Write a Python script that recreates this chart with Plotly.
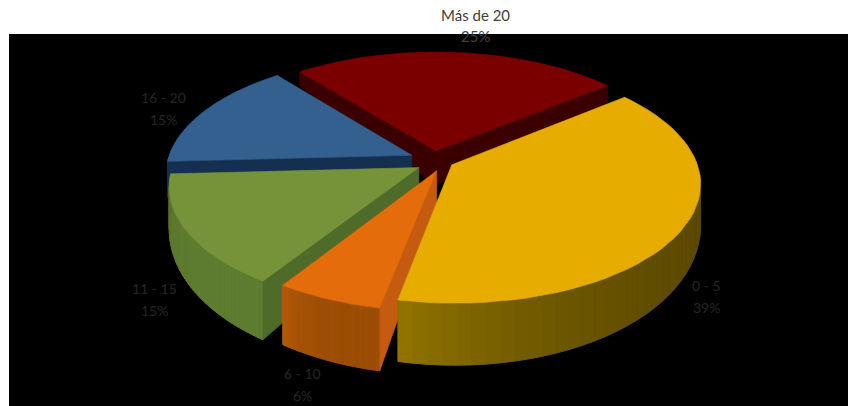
import math
import plotly.graph_objects as go

# ---- data ----
categories = ["0 - 5", "6 - 10", "11 - 15", "16 - 20", "Más de 20"]
values = [39, 6, 15, 15, 25]
percent_labels = ["39%", "6%", "15%", "15%", "25%"]

# ---- styling per slice ----
top_colors = ["#e6ac00", "#e46c0a", "#76933a", "#33608f", "#7a0000"]
face_colors = [None, "#c55a11", "#4f6b2a", "#152f50", "#3a0000"]
wall_start = ["#5a4800", "#9c4e05", "#5f7d30", "#1a3558", "#3a0000"]
wall_end = ["#917400", "#b45a08", "#55702b", "#1a3558", "#3a0000"]
explode = [0.08, 0.05, 0.08, 0.10, 0.08]
nudge_x = [0.004, 0.03, 0.008, 0.0, 0.0]
nudge_y = [0.0, 0.045, 0.025, 0.0, 0.0]
label_pos = [(706, 285, 307), (302, 373, 395), (154, 288, 310), (163, 98, 119), (475, 15, 36)]
label_size = [14, 14, 14, 14, 15]

# ---- 3-D projection set-up ----
FIRST_ANGLE = 51.0
CX, CY, A, B, K = 434, 160, 244, 116, 0.15
TOP, BOTTOM, LEFT, RIGHT = 34, 406, 9, 848


def wall_height(y):
    return max(36 + 25 * y, 0)


def proj(x, y, drop=False):
    s = 1 / (1 - K * y)
    return CX + A * x * s, CY + B * y * s + (wall_height(y) if drop else 0)


def mix(c1, c2, t):
    a = [int(c1[i:i + 2], 16) for i in (1, 3, 5)]
    b = [int(c2[i:i + 2], 16) for i in (1, 3, 5)]
    return "#%02x%02x%02x" % tuple(round(p + (q - p) * t) for p, q in zip(a, b))


fig = go.Figure()


def poly(points, color, line=None, width=0.6):
    fig.add_trace(go.Scatter(
        x=[p[0] for p in points] + [points[0][0]],
        y=[p[1] for p in points] + [points[0][1]],
        mode="lines", fill="toself", fillcolor=color,
        line=dict(color=line or color, width=width),
        hoverinfo="skip", showlegend=False))


# slice angles come from the values
angles = []
run = FIRST_ANGLE
total = sum(values)
for v in values:
    sweep = 360 * v / total
    angles.append((run, run + sweep))
    run += sweep

# paint order: back to front
for i in [4, 3, 2, 1, 0]:
    t0, t1 = angles[i]
    mid = math.radians((t0 + t1) / 2)
    ox = explode[i] * math.sin(mid) + nudge_x[i]
    oy = -explode[i] * math.cos(mid) + nudge_y[i]

    def rim(deg):
        r = math.radians(deg)
        return ox + math.sin(r), oy - math.cos(r)

    n = 48
    arc_deg = [t0 + (t1 - t0) * j / n for j in range(n + 1)]
    arc = [rim(d) for d in arc_deg]

    # outer wall, in shaded strips
    strips = 48
    for j in range(strips):
        a0 = t0 + (t1 - t0) * j / strips
        a1 = t0 + (t1 - t0) * (j + 1) / strips
        sub = [rim(a0 + (a1 - a0) * q / 2) for q in range(3)]
        pts = [proj(*p) for p in sub] + [proj(*p, drop=True) for p in reversed(sub)]
        t = (j + 0.5) / strips
        poly(pts, mix(wall_start[i], wall_end[i], t ** 4), width=1)

    # visible cut faces
    edges = {1: [t0], 2: [t0], 3: [t0], 4: [t0, t1]}.get(i, [])
    for d in edges:
        p = rim(d)
        poly([proj(ox, oy), proj(*p), proj(*p, drop=True), proj(ox, oy, drop=True)],
             face_colors[i])

    # top
    poly([proj(ox, oy)] + [proj(*p) for p in arc], top_colors[i])


def add_label(text, lx, ly, color, size):
    fig.add_annotation(
        x=(lx - LEFT) / (RIGHT - LEFT), y=(BOTTOM - ly) / (BOTTOM - TOP),
        xref="paper", yref="paper", xanchor="center", yanchor="middle",
        showarrow=False, text=text,
        font=dict(family="Lato, Carlito, sans-serif", size=size, color=color))


for name, pct, (lx, ly1, ly2), size in zip(categories, percent_labels, label_pos, label_size):
    on_white = ly1 < TOP
    add_label(name, lx, ly1, "#404040" if on_white else "#262626", size)
    add_label(pct, lx, ly2, "#404040" if on_white else "#262626", size)

fig.update_layout(
    width=848, height=406, autosize=False,
    margin=dict(l=LEFT, r=0, t=TOP, b=0),
    paper_bgcolor="white", plot_bgcolor="black",
    showlegend=False,
    xaxis=dict(range=[LEFT, RIGHT], visible=False, fixedrange=True),
    yaxis=dict(range=[BOTTOM, TOP], visible=False, fixedrange=True),
)

fig.write_html("out.html", config={"displayModeBar": False},
               post_script="document.body.style.margin='0';document.body.style.overflow='hidden';")
